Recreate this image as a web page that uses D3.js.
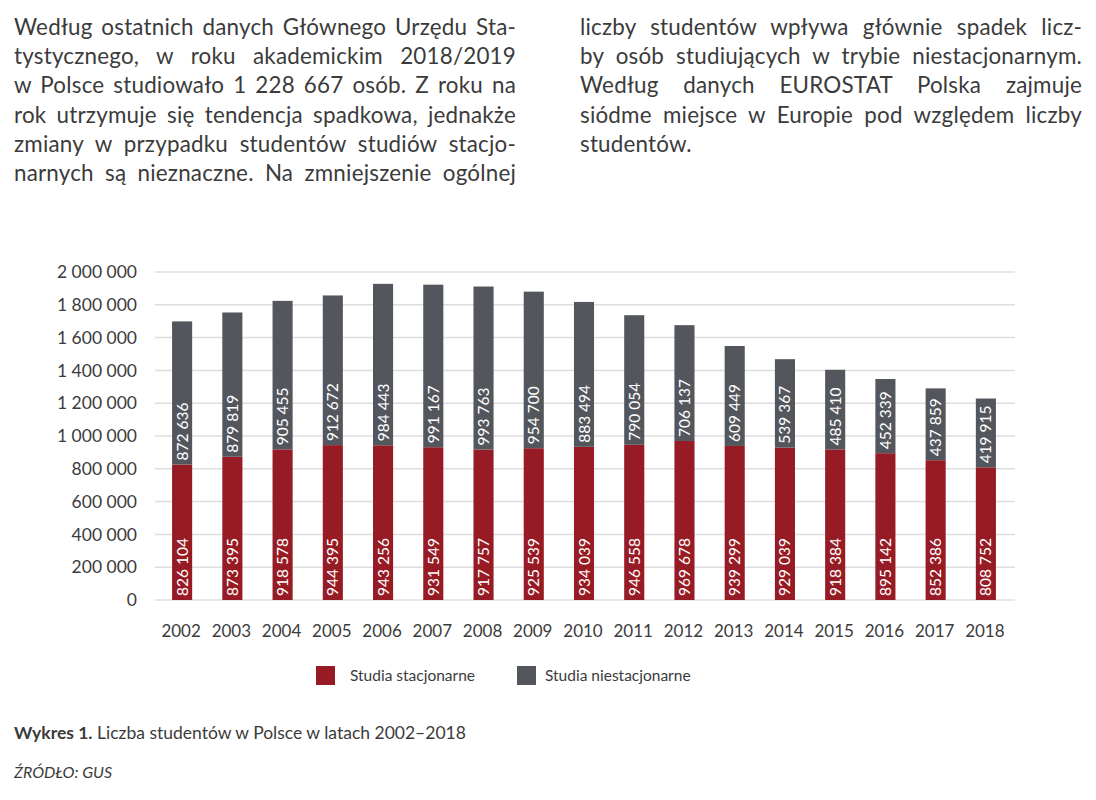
<!DOCTYPE html>
<html>
<head>
<meta charset="utf-8">
<script src="https://cdn.jsdelivr.net/npm/d3@7"></script>
<style>
  body { margin: 0; background: #fff; width: 1096px; height: 800px; position: relative; overflow: hidden; }
  .col { position: absolute; top: 12px; width: 502px; font-family: Lato, sans-serif; font-size: 22.4px; line-height: 29.2px; color: #3b3b3b; letter-spacing: 0.2px; }
  .col div { text-align: justify; text-align-last: justify; white-space: nowrap; }
  .col div.last { text-align-last: left; }
  svg { position: absolute; left: 0; top: 0; }
</style>
</head>
<body>
<div class="col" id="left" style="left:14px"></div>
<div class="col" id="right" style="left:580px"></div>
<svg id="chart" width="1096" height="800"></svg>
<script>
// paragraph lines as in the source page
const leftLines = [
  "Według ostatnich danych Głównego Urzędu Sta-",
  "tystycznego, w roku akademickim 2018/2019",
  "w Polsce studiowało 1 228 667 osób. Z roku na",
  "rok utrzymuje się tendencja spadkowa, jednakże",
  "zmiany w przypadku studentów studiów stacjo-",
  "narnych są nieznaczne. Na zmniejszenie ogólnej"
];
const rightLines = [
  "liczby studentów wpływa głównie spadek licz-",
  "by osób studiujących w trybie niestacjonarnym.",
  "Według danych EUROSTAT Polska zajmuje",
  "siódme miejsce w Europie pod względem liczby",
  "studentów."
];

const years = ["2002","2003","2004","2005","2006","2007","2008","2009","2010","2011","2012","2013","2014","2015","2016","2017","2018"];
const stacjonarne = [826104, 873395, 918578, 944395, 943256, 931549, 917757, 925539, 934039, 946558, 969678, 939299, 929039, 918384, 895142, 852386, 808752];
const niestacjonarne = [872636, 879819, 905455, 912672, 984443, 991167, 993763, 954700, 883494, 790054, 706137, 609449, 539367, 485410, 452339, 437859, 419915];
const yTicks = [0, 200000, 400000, 600000, 800000, 1000000, 1200000, 1400000, 1600000, 1800000, 2000000];
const seriesNames = ["Studia stacjonarne", "Studia niestacjonarne"];
const colors = ["#971b24", "#53575d"];

d3.select("#left").selectAll("div").data(leftLines).join("div").text(d => d);
d3.select("#right").selectAll("div").data(rightLines).join("div")
  .attr("class", (d, i) => i == rightLines.length - 1 ? "last" : null)
  .text(d => d);

const fmt = d3.formatLocale({decimal: ",", thousands: " ", grouping: [3], currency: ["", ""]}).format(",");

const svg = d3.select("#chart");
const chartLeft = 155, chartRight = 1015;

const y = d3.scaleLinear().domain([0, 2000000]).range([600, 272]);
const x = d3.scaleBand().domain(years).range([157, 1011]).paddingInner(0.6).paddingOuter(0.3);

// gridlines
svg.append("g").selectAll("line").data(yTicks).join("line")
  .attr("x1", chartLeft).attr("x2", chartRight)
  .attr("y1", d => y(d)).attr("y2", d => y(d))
  .attr("stroke", "#dedede").attr("stroke-width", 1.5);

// y tick labels
svg.append("g").selectAll("text").data(yTicks).join("text")
  .attr("x", 137).attr("y", d => y(d)).attr("dy", "0.35em")
  .attr("text-anchor", "end")
  .attr("font-family", "Lato, sans-serif").attr("font-size", 17.5).attr("fill", "#3b3b3b")
  .text(d => fmt(d));

// x labels
svg.append("g").selectAll("text").data(years).join("text")
  .attr("x", d => x(d) + x.bandwidth() / 2 - 1).attr("y", 637)
  .attr("text-anchor", "middle")
  .attr("font-family", "Lato, sans-serif").attr("font-size", 17).attr("fill", "#3b3b3b")
  .text(d => d);

const rows = years.map((yr, i) => ({year: yr, s: stacjonarne[i], n: niestacjonarne[i]}));
const stack = d3.stack().keys(["s", "n"])(rows);

const layers = svg.append("g").selectAll("g").data(stack).join("g")
  .attr("fill", (d, i) => colors[i]);

layers.selectAll("rect").data(d => d).join("rect")
  .attr("x", d => x(d.data.year))
  .attr("width", x.bandwidth())
  .attr("y", d => y(d[1]))
  .attr("height", d => y(d[0]) - y(d[1]));

// value labels, rotated, reading upward from the bottom of each segment
layers.selectAll("text").data(d => d).join("text")
  .attr("transform", d => `translate(${x(d.data.year) + x.bandwidth() / 2 + 5.5},${y(d[0]) - 4}) rotate(-90)`)
  .attr("font-family", "Lato, sans-serif").attr("font-size", 15.5).attr("fill", "#fff")
  .text(d => fmt(d[1] - d[0]));

// legend
const legend = svg.append("g").selectAll("g").data(seriesNames).join("g")
  .attr("transform", (d, i) => `translate(${i == 0 ? 316 : 517},666)`);
legend.append("rect").attr("width", 19).attr("height", 19).attr("fill", (d, i) => colors[i]);
legend.append("text").attr("x", (d, i) => i == 0 ? 34 : 28).attr("y", 15)
  .attr("font-family", "Lato, sans-serif").attr("font-size", 15.5).attr("fill", "#3b3b3b")
  .text(d => d);

// caption and source
svg.append("text").attr("x", 14).attr("y", 739)
  .attr("font-family", "Lato, sans-serif").attr("font-size", 17.5).attr("fill", "#3b3b3b")
  .html('<tspan font-weight="bold">Wykres 1.</tspan> Liczba studentów w Polsce w latach 2002–2018');
svg.append("text").attr("x", 14).attr("y", 778)
  .attr("font-family", "Lato, sans-serif").attr("font-size", 16).attr("font-style", "italic").attr("fill", "#3b3b3b")
  .text("ŹRÓDŁO: GUS");
</script>
</body>
</html>
